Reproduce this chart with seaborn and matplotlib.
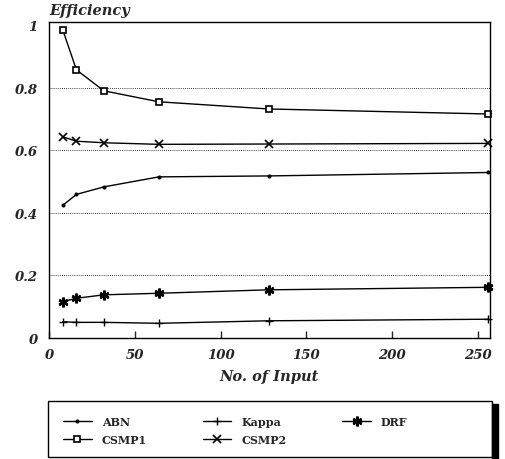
import numpy as np
import pandas as pd
import matplotlib
matplotlib.use("Agg")
import matplotlib.pyplot as plt
import seaborn as sns

# number of inputs
n_input = [8, 16, 32, 64, 128, 256]

# efficiency per method
abn = [0.424, 0.459, 0.483, 0.515, 0.518, 0.529]
kappa = [0.052, 0.050, 0.050, 0.047, 0.055, 0.060]
drf = [0.116, 0.127, 0.138, 0.143, 0.154, 0.162]
csmp1 = [0.985, 0.857, 0.790, 0.755, 0.732, 0.716]
csmp2 = [0.643, 0.629, 0.624, 0.619, 0.620, 0.622]

methods = ["ABN", "Kappa", "DRF", "CSMP1", "CSMP2"]
y_ticks = [0, 0.2, 0.4, 0.6, 0.8, 1]
y_tick_labels = ["0", "0.2", "0.4", "0.6", "0.8", "1"]
x_ticks = [0, 50, 100, 150, 200, 250]

df = pd.DataFrame({
    "n": n_input * 5,
    "eff": abn + kappa + drf + csmp1 + csmp2,
    "method": np.repeat(methods, len(n_input)),
})

sns.set_style("white")
plt.rcParams['font.family'] = ['DejaVu Serif']

W, H = 505, 460
fig = plt.figure(figsize=(W / 100, H / 100), dpi=100)
ax = fig.add_axes([49 / W, 1 - 339 / H, (490 - 49) / W, (339 - 23) / H])

styles = {
    "ABN": dict(marker="o", markersize=2.2, mfc="black"),
    "Kappa": dict(marker="+", markersize=6, mew=1.0),
    "DRF": dict(marker=(6, 2, 0), markersize=7, mew=1.8),
    "CSMP1": dict(marker="s", markersize=5, mfc="white", mew=1.2),
    "CSMP2": dict(marker="x", markersize=5.5, mew=1.2),
}

for m in ["ABN", "CSMP1", "Kappa", "CSMP2", "DRF"]:
    sub = df[df["method"] == m]
    sns.lineplot(data=sub, x="n", y="eff", ax=ax, color="black", lw=1.0,
                 mec="black", label=m, clip_on=False, **styles[m])

ax.set_xlim(0, 257)
ax.set_ylim(0, 1.01)
ax.set_yticks(y_ticks)
ax.set_yticklabels(y_tick_labels, fontsize=9.5, fontweight="bold", fontstyle="italic")
ax.set_xticks(x_ticks)
ax.set_xticklabels([str(t) for t in x_ticks], fontsize=9.5, fontweight="bold", fontstyle="italic")
ax.tick_params(axis="x", direction="in", length=5, width=1, bottom=True, pad=7)
ax.tick_params(axis="y", length=0, pad=8)

for yv in [0.2, 0.4, 0.6, 0.8]:
    ax.axhline(yv, color="black", lw=0.6, ls=(0, (1, 1.5)), zorder=0)

for s in ax.spines.values():
    s.set_color("black")
    s.set_linewidth(1.0)

ax.set_xlabel("No. of Input", fontsize=10.5, fontweight="bold", fontstyle="italic", labelpad=6)
ax.set_ylabel("")
ax.text(0.0, 1.015, "Efficiency", transform=ax.transAxes, fontsize=10.5,
        fontweight="bold", fontstyle="italic", ha="left", va="bottom")

ax.legend_.remove()
handles, labels = ax.get_legend_handles_labels()

# legend box with a thick shadow on the right edge
fig.patches.append(plt.Rectangle((48 / W, 1 - 458 / H), (492 - 48) / W, (458 - 402) / H,
                                 transform=fig.transFigure, fill=False,
                                 edgecolor="black", lw=1.0, zorder=1))
fig.patches.append(plt.Rectangle((492 / W, 1 - 460 / H), 6 / W, (460 - 405) / H,
                                 transform=fig.transFigure, color="black", zorder=1))

leg = fig.legend(handles, labels, ncol=3, loc="upper left",
                 bbox_to_anchor=(53 / W, 1 - 407 / H),
                 frameon=False, prop=dict(size=8, weight="bold"),
                 handlelength=2.6, handletextpad=0.9, columnspacing=5.0,
                 labelspacing=0.6)

fig.savefig("out.png", dpi=100)
